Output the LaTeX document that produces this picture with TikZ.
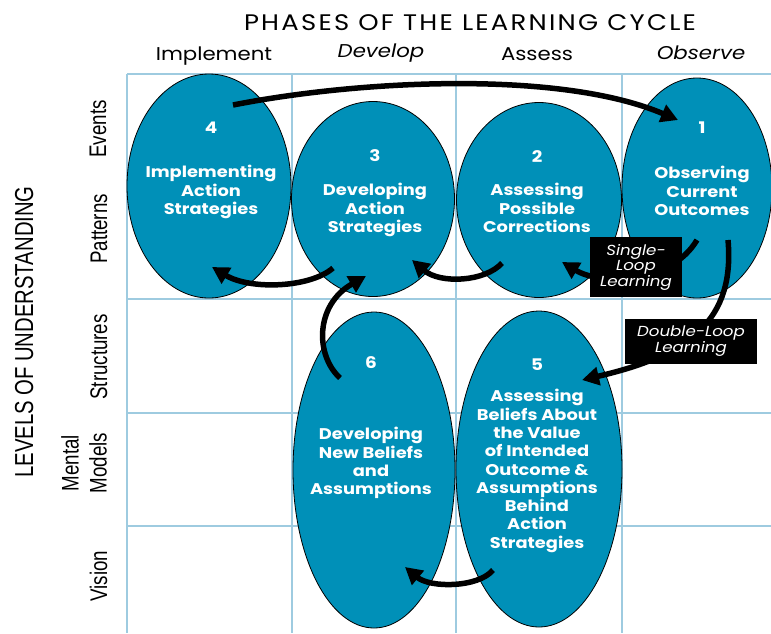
\documentclass[tikz,border=0pt]{standalone}
\usepackage{fontspec}
\setmainfont{Poppins}[FakeStretch=1.15]
\newfontfamily\narrowfont{Liberation Sans}[FakeStretch=0.78]
\usetikzlibrary{arrows.meta, positioning, shapes.geometric}
\definecolor{gridblue}{RGB}{158, 203, 224}
\definecolor{phaseblue}{RGB}{0, 144, 184}

\begin{document}
\begin{tikzpicture}[x=1pt, y=-1pt,
    phase/.style={ellipse, draw=black, line width=0.8pt, fill=phaseblue, inner sep=0pt},
    phasenum/.style={text=white, font=\fontsize{16}{18}\selectfont\bfseries},
    phasetext/.style={text=white, align=center, font=\fontsize{15.5}{18.3}\selectfont\bfseries},
    loopbox/.style={fill=black, text=white, align=center, inner sep=0pt, font=\fontsize{14.5}{15.5}\selectfont\itshape},
    loop/.style={line width=5.5pt, -{Triangle[length=17pt, width=18pt]}},
    gridline/.style={gridblue, line width=2.2pt},
    rowlabel/.style={rotate=90, font=\narrowfont\fontsize{24}{28}\selectfont},
    collabel/.style={anchor=base, font=\fontsize{18.5}{20}\selectfont}]
    \useasboundingbox (0,0) rectangle (771,633);

    % grid of phases and levels
    \draw[gridline] (127,74) -- (127,633);
    \draw[gridline] (292,74) -- (292,633);
    \draw[gridline] (456,74) -- (456,633);
    \draw[gridline] (622,74) -- (622,633);
    \draw[gridline] (127,74) -- (771,74);
    \draw[gridline] (127,299) -- (771,299);
    \draw[gridline] (127,413) -- (771,413);
    \draw[gridline] (127,526) -- (771,526);

    % headings
    \node[collabel, font=\fontsize{22.5}{24}\selectfont\addfontfeature{LetterSpace=10}] (title) at (470,30) {PHASES OF THE LEARNING CYCLE};
    \node[collabel] (implement) at (214,60) {Implement};
    \node[collabel] (develop) at (381,57) {\itshape Develop};
    \node[collabel] (assess) at (537,60) {Assess};
    \node[collabel] (observe) at (701,59) {\itshape Observe};

    \node[rotate=90, anchor=base, font=\narrowfont\fontsize{26}{30}\selectfont] (levels) at (33,332) {LEVELS OF UNDERSTANDING};
    \node[rowlabel, anchor=base] (events) at (106,129) {Events};
    \node[rowlabel, anchor=base] (patterns) at (107,229) {Patterns};
    \node[rowlabel, anchor=base] (structures) at (107,357) {Structures};
    \node[rowlabel, align=center] (mental) at (84,463) {Mental\\Models};
    \node[rowlabel, anchor=base] (vision) at (107,576) {Vision};

    % the six phases
    \node[phase, minimum width=164pt, minimum height=224pt] (e4) at (209,186) {};
    \node[phase, minimum width=163pt, minimum height=195pt] (e3) at (373,199) {};
    \node[phase, minimum width=165pt, minimum height=195pt] (e2) at (539,200) {};
    \node[phase, minimum width=150pt, minimum height=220pt] (e1) at (697,188) {};
    \node[phase, minimum width=162pt, minimum height=316pt] (e6) at (374,470) {};
    \node[phase, minimum width=166pt, minimum height=316pt] (e5) at (539,469) {};

    \node[phasenum] (n4) at (211,128) {4};
    \node[phasetext] (t4) at (211,192) {Implementing\\Action\\Strategies};
    \node[phasenum] (n3) at (375,156) {3};
    \node[phasetext] (t3) at (375,210) {Developing\\Action\\Strategies};
    \node[phasenum] (n2) at (537,157) {2};
    \node[phasetext] (t2) at (537,208) {Assessing\\Possible\\Corrections};
    \node[phasenum] (n1) at (702,128) {1};
    \node[phasetext] (t1) at (702,191) {Observing\\Current\\Outcomes};
    \node[phasenum] (n6) at (371,363) {6};
    \node[phasetext] (t6) at (371,463) {Developing\\New Beliefs\\and\\Assumptions};
    \node[phasenum] (n5) at (537,365) {5};
    \node[phasetext] (t5) at (537,471) {Assessing\\Beliefs About\\the Value\\of Intended\\Outcome \&\\Assumptions\\Behind\\Action\\Strategies};

    % arrow ends
    \coordinate (from4) at (233,105);
    \coordinate (to1) at (678,120);
    \coordinate (from3) at (333,268);
    \coordinate (to4) at (212,267);
    \coordinate (from2) at (502,263);
    \coordinate (to3) at (412,260);
    \coordinate (from1a) at (697,240);
    \coordinate (to2) at (562,262);
    \coordinate (from1b) at (728,240);
    \coordinate (to5) at (582,380);
    \coordinate (from6) at (340,378);
    \coordinate (to3b) at (366,276);
    \coordinate (from5) at (493,570);
    \coordinate (to6) at (405,567);

    \draw[loop] (from4) .. controls (360,80) and (560,70) .. (to1);
    \draw[loop] (from3) .. controls (310,288) and (250,290) .. (to4);
    \draw[loop] (from2) .. controls (485,282) and (440,284) .. (to3);
    \draw[loop] (from1a) .. controls (670,285) and (600,285) .. (to2);
    \draw[loop] (from1b) .. controls (735,320) and (690,355) .. (to5);
    \draw[loop] (from6) .. controls (315,355) and (315,305) .. (to3b);
    \draw[loop] (from5) .. controls (478,588) and (430,588) .. (to6);

    \node[loopbox, minimum width=92pt, minimum height=60pt] (single) at (636,267) {Single-\\Loop\\Learning};
    \node[loopbox, minimum width=132pt, minimum height=45pt] (double) at (691,341) {Double-Loop\\Learning};
\end{tikzpicture}
\end{document}
